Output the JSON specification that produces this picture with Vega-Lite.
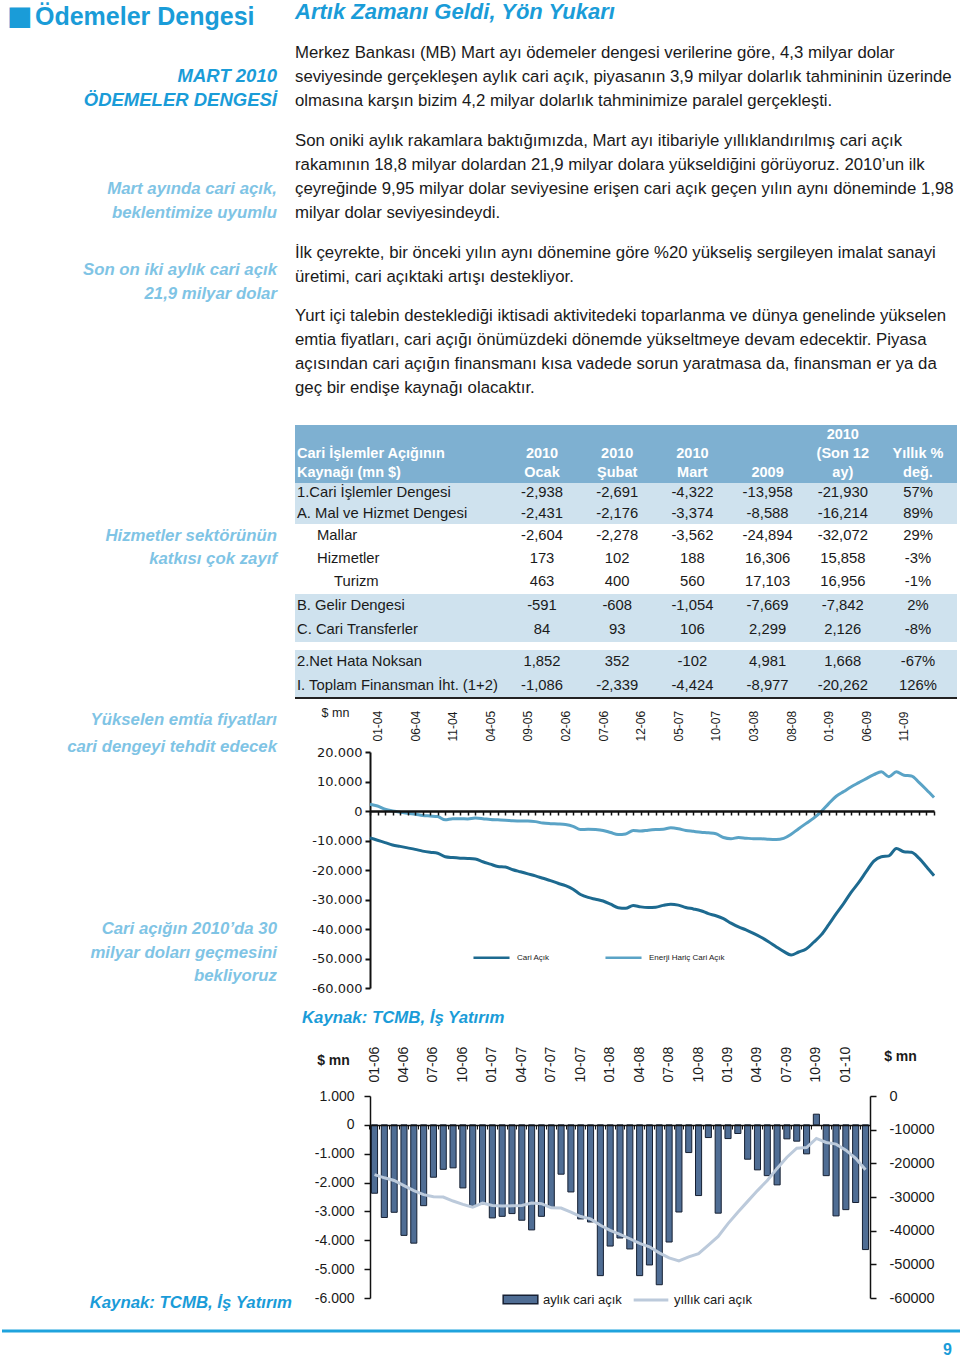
{
"$schema": "https://vega.github.io/schema/vega-lite/v6.json",
"background": "white",
"padding": 0,
"columns": 2,
"spacing": {"row": 0, "column": 18},
"align": {"row": "each", "column": "each"},
"bounds": "flush",
"config": {
  "view": {"stroke": null},
  "font": "Liberation Sans",
  "locale": {"number": {"decimal": ",", "thousands": ".", "grouping": [3], "currency": ["", ""], "minus": "-"}},
  "axis": {"labelFont": "Liberation Sans", "titleFont": "Liberation Sans", "labelColor": "#1a1a1a", "titleColor": "#1a1a1a", "domainColor": "#111111", "tickColor": "#111111", "grid": false, "labelOverlap": false},
  "legend": {"labelFont": "Liberation Sans", "labelColor": "#1a1a1a"}
},
"datasets": {
  "ca": [
    {"m": "12-03", "cari": -9100, "enerji": 2300},
    {"m": "01-04", "cari": -9900, "enerji": 1700},
    {"m": "02-04", "cari": -10700, "enerji": 600},
    {"m": "03-04", "cari": -11500, "enerji": 0},
    {"m": "04-04", "cari": -12000, "enerji": -400},
    {"m": "05-04", "cari": -12500, "enerji": -800},
    {"m": "06-04", "cari": -13000, "enerji": -1100},
    {"m": "07-04", "cari": -13600, "enerji": -1500},
    {"m": "08-04", "cari": -14000, "enerji": -1700},
    {"m": "09-04", "cari": -14300, "enerji": -1900},
    {"m": "10-04", "cari": -15500, "enerji": -3000},
    {"m": "11-04", "cari": -15800, "enerji": -2600},
    {"m": "12-04", "cari": -16000, "enerji": -2600},
    {"m": "01-05", "cari": -16100, "enerji": -2700},
    {"m": "02-05", "cari": -16300, "enerji": -2400},
    {"m": "03-05", "cari": -17200, "enerji": -2600},
    {"m": "04-05", "cari": -18000, "enerji": -2900},
    {"m": "05-05", "cari": -18800, "enerji": -3000},
    {"m": "06-05", "cari": -19000, "enerji": -3100},
    {"m": "07-05", "cari": -19900, "enerji": -3300},
    {"m": "08-05", "cari": -20600, "enerji": -3400},
    {"m": "09-05", "cari": -21300, "enerji": -3400},
    {"m": "10-05", "cari": -22000, "enerji": -3600},
    {"m": "11-05", "cari": -22800, "enerji": -4100},
    {"m": "12-05", "cari": -23600, "enerji": -4300},
    {"m": "01-06", "cari": -24500, "enerji": -4400},
    {"m": "02-06", "cari": -25300, "enerji": -4600},
    {"m": "03-06", "cari": -26500, "enerji": -5200},
    {"m": "04-06", "cari": -28300, "enerji": -6300},
    {"m": "05-06", "cari": -29300, "enerji": -6200},
    {"m": "06-06", "cari": -29900, "enerji": -6300},
    {"m": "07-06", "cari": -30500, "enerji": -6600},
    {"m": "08-06", "cari": -31600, "enerji": -7300},
    {"m": "09-06", "cari": -32800, "enerji": -8000},
    {"m": "10-06", "cari": -33000, "enerji": -7800},
    {"m": "11-06", "cari": -32000, "enerji": -6600},
    {"m": "12-06", "cari": -32500, "enerji": -6800},
    {"m": "01-07", "cari": -32700, "enerji": -6500},
    {"m": "02-07", "cari": -32600, "enerji": -6300},
    {"m": "03-07", "cari": -32000, "enerji": -6200},
    {"m": "04-07", "cari": -31600, "enerji": -5700},
    {"m": "05-07", "cari": -31900, "enerji": -6000},
    {"m": "06-07", "cari": -32700, "enerji": -6600},
    {"m": "07-07", "cari": -33200, "enerji": -6900},
    {"m": "08-07", "cari": -33800, "enerji": -7200},
    {"m": "09-07", "cari": -34800, "enerji": -7400},
    {"m": "10-07", "cari": -35500, "enerji": -7700},
    {"m": "11-07", "cari": -36500, "enerji": -9000},
    {"m": "12-07", "cari": -38000, "enerji": -9400},
    {"m": "01-08", "cari": -39300, "enerji": -9000},
    {"m": "02-08", "cari": -40300, "enerji": -9200},
    {"m": "03-08", "cari": -41500, "enerji": -9400},
    {"m": "04-08", "cari": -42800, "enerji": -9400},
    {"m": "05-08", "cari": -44300, "enerji": -9600},
    {"m": "06-08", "cari": -46000, "enerji": -9700},
    {"m": "07-08", "cari": -47600, "enerji": -9300},
    {"m": "08-08", "cari": -48800, "enerji": -7900},
    {"m": "09-08", "cari": -47800, "enerji": -6000},
    {"m": "10-08", "cari": -46800, "enerji": -4200},
    {"m": "11-08", "cari": -44500, "enerji": -2400},
    {"m": "12-08", "cari": -42000, "enerji": -200},
    {"m": "01-09", "cari": -38500, "enerji": 2500},
    {"m": "02-09", "cari": -34800, "enerji": 5000},
    {"m": "03-09", "cari": -31300, "enerji": 6600},
    {"m": "04-09", "cari": -27500, "enerji": 8200},
    {"m": "05-09", "cari": -24200, "enerji": 9600},
    {"m": "06-09", "cari": -20500, "enerji": 11000},
    {"m": "07-09", "cari": -17000, "enerji": 12300},
    {"m": "08-09", "cari": -15500, "enerji": 13300},
    {"m": "09-09", "cari": -15200, "enerji": 11600},
    {"m": "10-09", "cari": -12700, "enerji": 13300},
    {"m": "11-09", "cari": -13800, "enerji": 12100},
    {"m": "12-09", "cari": -14000, "enerji": 11900},
    {"m": "01-10", "cari": -16000, "enerji": 9700},
    {"m": "02-10", "cari": -18900, "enerji": 7200},
    {"m": "03-10", "cari": -21930, "enerji": 4600}
  ],
  "monthly": [
    {"m": "01-06", "aylik": -2370, "yillik": -23350},
    {"m": "02-06", "aylik": -3210, "yillik": -24300},
    {"m": "03-06", "aylik": -3030, "yillik": -25100},
    {"m": "04-06", "aylik": -3830, "yillik": -26600},
    {"m": "05-06", "aylik": -4100, "yillik": -28100},
    {"m": "06-06", "aylik": -2800, "yillik": -29300},
    {"m": "07-06", "aylik": -1815, "yillik": -29900},
    {"m": "08-06", "aylik": -1540, "yillik": -30000},
    {"m": "09-06", "aylik": -1490, "yillik": -31200},
    {"m": "10-06", "aylik": -2185, "yillik": -32200},
    {"m": "11-06", "aylik": -2800, "yillik": -33000},
    {"m": "12-06", "aylik": -2740, "yillik": -31800},
    {"m": "01-07", "aylik": -3225, "yillik": -32500},
    {"m": "02-07", "aylik": -3170, "yillik": -32700},
    {"m": "03-07", "aylik": -3075, "yillik": -32600},
    {"m": "04-07", "aylik": -3305, "yillik": -32500},
    {"m": "05-07", "aylik": -3640, "yillik": -31800},
    {"m": "06-07", "aylik": -3170, "yillik": -32000},
    {"m": "07-07", "aylik": -2855, "yillik": -33200},
    {"m": "08-07", "aylik": -1710, "yillik": -33300},
    {"m": "09-07", "aylik": -2325, "yillik": -34500},
    {"m": "10-07", "aylik": -3260, "yillik": -35800},
    {"m": "11-07", "aylik": -3365, "yillik": -36500},
    {"m": "12-07", "aylik": -5225, "yillik": -38400},
    {"m": "01-08", "aylik": -4200, "yillik": -39900},
    {"m": "02-08", "aylik": -3920, "yillik": -41100},
    {"m": "03-08", "aylik": -4300, "yillik": -42400},
    {"m": "04-08", "aylik": -5225, "yillik": -43800},
    {"m": "05-08", "aylik": -4855, "yillik": -44800},
    {"m": "06-08", "aylik": -5540, "yillik": -46600},
    {"m": "07-08", "aylik": -4060, "yillik": -48100},
    {"m": "08-08", "aylik": -3020, "yillik": -49000},
    {"m": "09-08", "aylik": -960, "yillik": -47800},
    {"m": "10-08", "aylik": -2450, "yillik": -46800},
    {"m": "11-08", "aylik": -440, "yillik": -44300},
    {"m": "12-08", "aylik": -3060, "yillik": -41700},
    {"m": "01-09", "aylik": -475, "yillik": -37900},
    {"m": "02-09", "aylik": -300, "yillik": -34500},
    {"m": "03-09", "aylik": -1190, "yillik": -31300},
    {"m": "04-09", "aylik": -1560, "yillik": -28100},
    {"m": "05-09", "aylik": -1760, "yillik": -25100},
    {"m": "06-09", "aylik": -2080, "yillik": -21500},
    {"m": "07-09", "aylik": -485, "yillik": -18200},
    {"m": "08-09", "aylik": -565, "yillik": -15500},
    {"m": "09-09", "aylik": -1005, "yillik": -15300},
    {"m": "10-09", "aylik": 370, "yillik": -12600},
    {"m": "11-09", "aylik": -1760, "yillik": -13800},
    {"m": "12-09", "aylik": -3155, "yillik": -14300},
    {"m": "01-10", "aylik": -2938, "yillik": -16100},
    {"m": "02-10", "aylik": -2691, "yillik": -18500},
    {"m": "03-10", "aylik": -4322, "yillik": -21930}
  ],
  "table": [
    {"blk": "A", "line": 1, "label": "1.Cari İşlemler Dengesi", "c1": "-2,938", "c2": "-2,691", "c3": "-4,322", "c4": "-13,958", "c5": "-21,930", "c6": "57%"},
    {"blk": "A", "line": 2, "label": "A. Mal ve Hizmet Dengesi", "c1": "-2,431", "c2": "-2,176", "c3": "-3,374", "c4": "-8,588", "c5": "-16,214", "c6": "89%"},
    {"blk": "B", "line": 1, "label": "Mallar", "c1": "-2,604", "c2": "-2,278", "c3": "-3,562", "c4": "-24,894", "c5": "-32,072", "c6": "29%"},
    {"blk": "B", "line": 2, "label": "Hizmetler", "c1": "173", "c2": "102", "c3": "188", "c4": "16,306", "c5": "15,858", "c6": "-3%"},
    {"blk": "B", "line": 3, "label": "Turizm", "c1": "463", "c2": "400", "c3": "560", "c4": "17,103", "c5": "16,956", "c6": "-1%"},
    {"blk": "C", "line": 1, "label": "B. Gelir Dengesi", "c1": "-591", "c2": "-608", "c3": "-1,054", "c4": "-7,669", "c5": "-7,842", "c6": "2%"},
    {"blk": "C", "line": 2, "label": "C. Cari Transferler", "c1": "84", "c2": "93", "c3": "106", "c4": "2,299", "c5": "2,126", "c6": "-8%"},
    {"blk": "D", "line": 1, "label": "2.Net Hata Noksan", "c1": "1,852", "c2": "352", "c3": "-102", "c4": "4,981", "c5": "1,668", "c6": "-67%"},
    {"blk": "D", "line": 2, "label": "I. Toplam Finansman İht. (1+2)", "c1": "-1,086", "c2": "-2,339", "c3": "-4,424", "c4": "-8,977", "c5": "-20,262", "c6": "126%"}
  ]
},
"concat": [
  {
    "width": 275, "height": 25,
    "data": {"values": [{"sq": "■", "t": "Ödemeler Dengesi"}]},
    "layer": [
      {"mark": {"type": "text", "align": "left", "baseline": "middle", "font": "DejaVu Sans", "fontSize": 27, "color": "#1a9cd8", "dx": 5, "dy": 4}, "encoding": {"x": {"value": 0}, "text": {"field": "sq"}}},
      {"mark": {"type": "text", "align": "left", "baseline": "middle", "fontSize": 25, "fontWeight": "bold", "color": "#1a9cd8", "dx": 33, "dy": 4.5}, "encoding": {"x": {"value": 0}, "text": {"field": "t"}}}
    ]
  },
  {
    "width": 667, "height": 25,
    "data": {"values": [{"t": "Artık Zamanı Geldi, Yön Yukarı"}]},
    "mark": {"type": "text", "align": "left", "baseline": "middle", "fontSize": 22, "fontWeight": "bold", "fontStyle": "italic", "color": "#1a9cd8", "dy": -0.5},
    "encoding": {"x": {"value": 0}, "text": {"field": "t"}}
  },
  {"width": 275, "height": 16, "data": {"values": [{"t": ""}]}, "mark": {"type": "text"}, "encoding": {"text": {"field": "t"}}},
  {"width": 1, "height": 16, "data": {"values": [{"t": ""}]}, "mark": {"type": "text"}, "encoding": {"text": {"field": "t"}}},
  {
    "width": 275, "height": 72,
    "data": {"values": [{"line": 2, "t": "MART 2010"}, {"line": 3, "t": "ÖDEMELER DENGESİ"}]},
    "mark": {"type": "text", "align": "right", "baseline": "middle", "fontSize": 18.5, "fontWeight": "bold", "fontStyle": "italic", "color": "#1a9cd8", "dy": -1},
    "encoding": {"x": {"value": "width"}, "y": {"field": "line", "type": "ordinal", "scale": {"type": "point", "padding": 0.5, "domain": [1, 2, 3]}, "axis": null}, "text": {"field": "t"}}
  },
  {
    "width": 667, "height": 72,
    "data": {"values": [
      {"line": 1, "t": "Merkez Bankası (MB) Mart ayı ödemeler dengesi verilerine göre, 4,3 milyar dolar"},
      {"line": 2, "t": "seviyesinde gerçekleşen aylık cari açık, piyasanın 3,9 milyar dolarlık tahmininin üzerinde"},
      {"line": 3, "t": "olmasına karşın bizim 4,2 milyar dolarlık tahminimize paralel gerçekleşti."}
    ]},
    "mark": {"type": "text", "align": "left", "baseline": "middle", "fontSize": 16.8, "color": "#1a1a1a"},
    "encoding": {"x": {"value": 0}, "y": {"field": "line", "type": "ordinal", "scale": {"type": "point", "padding": 0.5, "domain": [1, 2, 3]}, "axis": null}, "text": {"field": "t"}}
  },
  {"width": 275, "height": 16, "data": {"values": [{"t": ""}]}, "mark": {"type": "text"}, "encoding": {"text": {"field": "t"}}},
  {"width": 1, "height": 16, "data": {"values": [{"t": ""}]}, "mark": {"type": "text"}, "encoding": {"text": {"field": "t"}}},
  {
    "width": 275, "height": 96,
    "data": {"values": [{"line": 3, "t": "Mart ayında cari açık,"}, {"line": 4, "t": "beklentimize uyumlu"}]},
    "mark": {"type": "text", "align": "right", "baseline": "middle", "fontSize": 16.8, "fontWeight": "bold", "fontStyle": "italic", "color": "#7fc4e5"},
    "encoding": {"x": {"value": "width"}, "y": {"field": "line", "type": "ordinal", "scale": {"type": "point", "padding": 0.5, "domain": [1, 2, 3, 4]}, "axis": null}, "text": {"field": "t"}}
  },
  {
    "width": 667, "height": 96,
    "data": {"values": [
      {"line": 1, "t": "Son oniki aylık rakamlara baktığımızda, Mart ayı itibariyle yıllıklandırılmış cari açık"},
      {"line": 2, "t": "rakamının 18,8 milyar dolardan 21,9 milyar dolara yükseldiğini görüyoruz. 2010’un ilk"},
      {"line": 3, "t": "çeyreğinde 9,95 milyar dolar seviyesine erişen cari açık geçen yılın aynı döneminde 1,98"},
      {"line": 4, "t": "milyar dolar seviyesindeydi."}
    ]},
    "mark": {"type": "text", "align": "left", "baseline": "middle", "fontSize": 16.8, "color": "#1a1a1a"},
    "encoding": {"x": {"value": 0}, "y": {"field": "line", "type": "ordinal", "scale": {"type": "point", "padding": 0.5, "domain": [1, 2, 3, 4]}, "axis": null}, "text": {"field": "t"}}
  },
  {"width": 275, "height": 16, "data": {"values": [{"t": ""}]}, "mark": {"type": "text"}, "encoding": {"text": {"field": "t"}}},
  {"width": 1, "height": 16, "data": {"values": [{"t": ""}]}, "mark": {"type": "text"}, "encoding": {"text": {"field": "t"}}},
  {
    "width": 275, "height": 48,
    "data": {"values": [{"line": 1, "t": "Son on iki aylık cari açık"}, {"line": 2, "t": "21,9 milyar dolar"}]},
    "mark": {"type": "text", "align": "right", "baseline": "middle", "fontSize": 16.8, "fontWeight": "bold", "fontStyle": "italic", "color": "#7fc4e5", "dy": 17},
    "encoding": {"x": {"value": "width"}, "y": {"field": "line", "type": "ordinal", "scale": {"type": "point", "padding": 0.5, "domain": [1, 2]}, "axis": null}, "text": {"field": "t"}}
  },
  {
    "width": 667, "height": 48,
    "data": {"values": [
      {"line": 1, "t": "İlk çeyrekte, bir önceki yılın aynı dönemine göre %20 yükseliş sergileyen imalat sanayi"},
      {"line": 2, "t": "üretimi, cari açıktaki artışı destekliyor."}
    ]},
    "mark": {"type": "text", "align": "left", "baseline": "middle", "fontSize": 16.8, "color": "#1a1a1a"},
    "encoding": {"x": {"value": 0}, "y": {"field": "line", "type": "ordinal", "scale": {"type": "point", "padding": 0.5, "domain": [1, 2]}, "axis": null}, "text": {"field": "t"}}
  },
  {"width": 275, "height": 15, "data": {"values": [{"t": ""}]}, "mark": {"type": "text"}, "encoding": {"text": {"field": "t"}}},
  {"width": 1, "height": 15, "data": {"values": [{"t": ""}]}, "mark": {"type": "text"}, "encoding": {"text": {"field": "t"}}},
  {"width": 275, "height": 96, "data": {"values": [{"t": ""}]}, "mark": {"type": "text"}, "encoding": {"text": {"field": "t"}}},
  {
    "width": 667, "height": 96,
    "data": {"values": [
      {"line": 1, "t": "Yurt içi talebin desteklediği iktisadi aktivitedeki toparlanma ve dünya genelinde yükselen"},
      {"line": 2, "t": "emtia fiyatları, cari açığı önümüzdeki dönemde yükseltmeye devam edecektir. Piyasa"},
      {"line": 3, "t": "açısından cari açığın finansmanı kısa vadede sorun yaratmasa da, finansman er ya da"},
      {"line": 4, "t": "geç bir endişe kaynağı olacaktır."}
    ]},
    "mark": {"type": "text", "align": "left", "baseline": "middle", "fontSize": 16.8, "color": "#1a1a1a"},
    "encoding": {"x": {"value": 0}, "y": {"field": "line", "type": "ordinal", "scale": {"type": "point", "padding": 0.5, "domain": [1, 2, 3, 4]}, "axis": null}, "text": {"field": "t"}}
  },
  {"width": 275, "height": 25, "data": {"values": [{"t": ""}]}, "mark": {"type": "text"}, "encoding": {"text": {"field": "t"}}},
  {"width": 1, "height": 25, "data": {"values": [{"t": ""}]}, "mark": {"type": "text"}, "encoding": {"text": {"field": "t"}}},
  {"width": 275, "height": 58, "data": {"values": [{"t": ""}]}, "mark": {"type": "text"}, "encoding": {"text": {"field": "t"}}},
  {
    "width": 662, "height": 58,
    "view": {"fill": "#7eb0d1", "stroke": null},
    "layer": [
      {
        "data": {"values": [{"line": 2, "t": "Cari İşlemler Açığının"}, {"line": 3, "t": "Kaynağı (mn $)"}]},
        "mark": {"type": "text", "align": "left", "baseline": "middle", "dx": 2, "fontSize": 14.5, "fontWeight": "bold", "color": "white"},
        "encoding": {"x": {"value": 0}, "y": {"field": "line", "type": "ordinal", "scale": {"type": "point", "padding": 0.5, "domain": [1, 2, 3]}, "axis": null}, "text": {"field": "t"}}
      },
      {
        "data": {"values": [
          {"line": 1, "col": "c5", "t": "2010"},
          {"line": 2, "col": "c1", "t": "2010"},
          {"line": 2, "col": "c2", "t": "2010"},
          {"line": 2, "col": "c3", "t": "2010"},
          {"line": 2, "col": "c5", "t": "(Son 12"},
          {"line": 2, "col": "c6", "t": "Yıllık %"},
          {"line": 3, "col": "c1", "t": "Ocak"},
          {"line": 3, "col": "c2", "t": "Şubat"},
          {"line": 3, "col": "c3", "t": "Mart"},
          {"line": 3, "col": "c4", "t": "2009"},
          {"line": 3, "col": "c5", "t": "ay)"},
          {"line": 3, "col": "c6", "t": "değ."}
        ]},
        "mark": {"type": "text", "align": "center", "baseline": "middle", "fontSize": 14.5, "fontWeight": "bold", "color": "white"},
        "encoding": {
          "x": {"field": "col", "type": "nominal", "scale": {"type": "point", "padding": 0, "domain": ["c1", "c2", "c3", "c4", "c5", "c6"], "range": [247, 623]}, "axis": null},
          "y": {"field": "line", "type": "ordinal", "scale": {"type": "point", "padding": 0.5, "domain": [1, 2, 3]}, "axis": null},
          "text": {"field": "t"}
        }
      }
    ]
  },
  {"width": 275, "height": 41, "data": {"values": [{"t": ""}]}, "mark": {"type": "text"}, "encoding": {"text": {"field": "t"}}},
  {
    "width": 662, "height": 41,
    "view": {"fill": "#cfe2ee", "stroke": null},
    "data": {"name": "table"},
    "transform": [{"filter": "datum.blk === 'A'"}],
    "layer": [
      {
        "mark": {"type": "text", "align": "left", "baseline": "middle", "dx": 2, "fontSize": 14.8, "color": "#1a1a1a"},
        "encoding": {"x": {"value": 0}, "y": {"field": "line", "type": "ordinal", "scale": {"type": "point", "padding": 0.5, "domain": [1, 2]}, "axis": null}, "text": {"field": "label"}}
      },
      {
        "transform": [{"fold": ["c1", "c2", "c3", "c4", "c5", "c6"]}],
        "mark": {"type": "text", "align": "center", "baseline": "middle", "fontSize": 14.8, "color": "#1a1a1a"},
        "encoding": {
          "x": {"field": "key", "type": "nominal", "scale": {"type": "point", "padding": 0, "domain": ["c1", "c2", "c3", "c4", "c5", "c6"], "range": [247, 623]}, "axis": null},
          "y": {"field": "line", "type": "ordinal", "scale": {"type": "point", "padding": 0.5, "domain": [1, 2]}, "axis": null},
          "text": {"field": "value"}
        }
      }
    ]
  },
  {
    "width": 275, "height": 70,
    "data": {"values": [{"line": 1, "t": "Hizmetler sektörünün"}, {"line": 2, "t": "katkısı çok zayıf"}]},
    "mark": {"type": "text", "align": "right", "baseline": "middle", "fontSize": 16.8, "fontWeight": "bold", "fontStyle": "italic", "color": "#7fc4e5"},
    "encoding": {"x": {"value": "width"}, "y": {"field": "line", "type": "ordinal", "scale": {"type": "point", "padding": 0.5, "domain": [1, 2, 3]}, "axis": null}, "text": {"field": "t"}}
  },
  {
    "width": 662, "height": 70,
    "data": {"name": "table"},
    "transform": [{"filter": "datum.blk === 'B'"}],
    "layer": [
      {
        "transform": [{"filter": "datum.line < 3"}],
        "mark": {"type": "text", "align": "left", "baseline": "middle", "dx": 22, "fontSize": 14.8, "color": "#1a1a1a"},
        "encoding": {"x": {"value": 0}, "y": {"field": "line", "type": "ordinal", "scale": {"type": "point", "padding": 0.5, "domain": [1, 2, 3]}, "axis": null}, "text": {"field": "label"}}
      },
      {
        "transform": [{"filter": "datum.line === 3"}],
        "mark": {"type": "text", "align": "left", "baseline": "middle", "dx": 39, "fontSize": 14.8, "color": "#1a1a1a"},
        "encoding": {"x": {"value": 0}, "y": {"field": "line", "type": "ordinal", "scale": {"type": "point", "padding": 0.5, "domain": [1, 2, 3]}, "axis": null}, "text": {"field": "label"}}
      },
      {
        "transform": [{"fold": ["c1", "c2", "c3", "c4", "c5", "c6"]}],
        "mark": {"type": "text", "align": "center", "baseline": "middle", "fontSize": 14.8, "color": "#1a1a1a"},
        "encoding": {
          "x": {"field": "key", "type": "nominal", "scale": {"type": "point", "padding": 0, "domain": ["c1", "c2", "c3", "c4", "c5", "c6"], "range": [247, 623]}, "axis": null},
          "y": {"field": "line", "type": "ordinal", "scale": {"type": "point", "padding": 0.5, "domain": [1, 2, 3]}, "axis": null},
          "text": {"field": "value"}
        }
      }
    ]
  },
  {"width": 275, "height": 48, "data": {"values": [{"t": ""}]}, "mark": {"type": "text"}, "encoding": {"text": {"field": "t"}}},
  {
    "width": 662, "height": 48,
    "view": {"fill": "#cfe2ee", "stroke": null},
    "data": {"name": "table"},
    "transform": [{"filter": "datum.blk === 'C'"}],
    "layer": [
      {
        "mark": {"type": "text", "align": "left", "baseline": "middle", "dx": 2, "fontSize": 14.8, "color": "#1a1a1a"},
        "encoding": {"x": {"value": 0}, "y": {"field": "line", "type": "ordinal", "scale": {"type": "point", "padding": 0.5, "domain": [1, 2]}, "axis": null}, "text": {"field": "label"}}
      },
      {
        "transform": [{"fold": ["c1", "c2", "c3", "c4", "c5", "c6"]}],
        "mark": {"type": "text", "align": "center", "baseline": "middle", "fontSize": 14.8, "color": "#1a1a1a"},
        "encoding": {
          "x": {"field": "key", "type": "nominal", "scale": {"type": "point", "padding": 0, "domain": ["c1", "c2", "c3", "c4", "c5", "c6"], "range": [247, 623]}, "axis": null},
          "y": {"field": "line", "type": "ordinal", "scale": {"type": "point", "padding": 0.5, "domain": [1, 2]}, "axis": null},
          "text": {"field": "value"}
        }
      }
    ]
  },
  {"width": 275, "height": 8, "data": {"values": [{"t": ""}]}, "mark": {"type": "text"}, "encoding": {"text": {"field": "t"}}},
  {"width": 1, "height": 8, "data": {"values": [{"t": ""}]}, "mark": {"type": "text"}, "encoding": {"text": {"field": "t"}}},
  {"width": 275, "height": 48, "data": {"values": [{"t": ""}]}, "mark": {"type": "text"}, "encoding": {"text": {"field": "t"}}},
  {
    "width": 662, "height": 48,
    "view": {"fill": "#cfe2ee", "stroke": null},
    "data": {"name": "table"},
    "transform": [{"filter": "datum.blk === 'D'"}],
    "layer": [
      {
        "mark": {"type": "text", "align": "left", "baseline": "middle", "dx": 2, "fontSize": 14.8, "color": "#1a1a1a"},
        "encoding": {"x": {"value": 0}, "y": {"field": "line", "type": "ordinal", "scale": {"type": "point", "padding": 0.5, "domain": [1, 2]}, "axis": null}, "text": {"field": "label"}}
      },
      {
        "transform": [{"fold": ["c1", "c2", "c3", "c4", "c5", "c6"]}],
        "mark": {"type": "text", "align": "center", "baseline": "middle", "fontSize": 14.8, "color": "#1a1a1a"},
        "encoding": {
          "x": {"field": "key", "type": "nominal", "scale": {"type": "point", "padding": 0, "domain": ["c1", "c2", "c3", "c4", "c5", "c6"], "range": [247, 623]}, "axis": null},
          "y": {"field": "line", "type": "ordinal", "scale": {"type": "point", "padding": 0.5, "domain": [1, 2]}, "axis": null},
          "text": {"field": "value"}
        }
      },
      {
        "mark": {"type": "rule", "color": "#222222", "strokeWidth": 2},
        "encoding": {"x": {"value": 0}, "x2": {"value": "width"}, "y": {"value": "height"}}
      }
    ]
  },
  {
    "width": 275, "height": 54,
    "data": {"values": [{"line": 1, "t": "Yükselen emtia fiyatları"}, {"line": 2, "t": "cari dengeyi tehdit edecek"}]},
    "mark": {"type": "text", "align": "right", "baseline": "middle", "fontSize": 16.8, "fontWeight": "bold", "fontStyle": "italic", "color": "#7fc4e5", "dy": 8},
    "encoding": {"x": {"value": "width"}, "y": {"field": "line", "type": "ordinal", "scale": {"type": "point", "padding": 0.5, "domain": [1, 2]}, "axis": null}, "text": {"field": "t"}}
  },
  {"width": 1, "height": 54, "data": {"values": [{"t": ""}]}, "mark": {"type": "text"}, "encoding": {"text": {"field": "t"}}},
  {
    "width": 275, "height": 236,
    "data": {"values": [{"line": 8, "t": "Cari açığın 2010’da 30"}, {"line": 9, "t": "milyar doları geçmesini"}, {"line": 10, "t": "bekliyoruz"}]},
    "mark": {"type": "text", "align": "right", "baseline": "middle", "fontSize": 16.8, "fontWeight": "bold", "fontStyle": "italic", "color": "#7fc4e5"},
    "encoding": {"x": {"value": "width"}, "y": {"field": "line", "type": "ordinal", "scale": {"type": "point", "padding": 0.5, "domain": [1, 2, 3, 4, 5, 6, 7, 8, 9, 10]}, "axis": null}, "text": {"field": "t"}}
  },
  {
    "width": 639, "height": 236,
    "data": {"name": "ca"},
    "layer": [
      {
        "mark": {"type": "line", "strokeWidth": 3, "interpolate": "monotone"},
        "encoding": {
          "x": {"field": "m", "type": "ordinal", "sort": null, "scale": {"type": "point", "padding": 0, "range": [75, 639]},
                "axis": {"orient": "top", "values": ["01-04", "06-04", "11-04", "04-05", "09-05", "02-06", "07-06", "12-06", "05-07", "10-07", "03-08", "08-08", "01-09", "06-09", "11-09"],
                         "labelAngle": 270, "labelFontSize": 12, "labelPadding": 11, "domain": false, "ticks": false, "title": null}},
          "y": {"field": "cari", "type": "quantitative", "scale": {"domain": [-60000, 20000]},
                "axis": {"offset": -75, "values": [-60000, -50000, -40000, -30000, -20000, -10000, 0, 10000, 20000], "format": ",d", "labelFont": "DejaVu Sans", "labelFontSize": 13, "tickSize": 5, "tickWidth": 2, "domainWidth": 2, "labelPadding": 3,
                         "title": "$ mn", "titleAngle": 0, "titleX": -35, "titleY": -40, "titleAlign": "center", "titleBaseline": "middle", "titleFontWeight": "normal", "titleFontSize": 12.5}},
          "color": {"datum": "Cari Açık", "scale": {"domain": ["Cari Açık", "Enerji Hariç Cari Açık"], "range": ["#1d6a90", "#5aa3c6"]},
                    "legend": {"orient": "none", "legendX": 470, "legendY": 938, "direction": "horizontal", "title": null, "labelFontSize": 8, "symbolType": "stroke", "symbolSize": 1300, "symbolStrokeWidth": 2.5, "columnPadding": 50, "labelOffset": 6}}
        }
      },
      {
        "mark": {"type": "line", "strokeWidth": 3, "interpolate": "monotone"},
        "encoding": {
          "x": {"field": "m", "type": "ordinal", "sort": null,
                "axis": {"orient": "bottom", "offset": -177, "labels": false, "domain": true, "domainWidth": 2.5, "domainColor": "#111111", "ticks": true, "tickSize": 4, "tickWidth": 1.5, "title": null, "zindex": 1}},
          "y": {"field": "enerji", "type": "quantitative",
                "axis": {"offset": -75, "values": [-60000, -50000, -40000, -30000, -20000, -10000, 0, 10000, 20000], "format": ",d", "labelFont": "DejaVu Sans", "labelFontSize": 13, "tickSize": 5, "tickWidth": 2, "domainWidth": 2, "labelPadding": 3,
                         "title": "$ mn", "titleAngle": 0, "titleX": -35, "titleY": -40, "titleAlign": "center", "titleBaseline": "middle", "titleFontWeight": "normal", "titleFontSize": 12.5}},
          "color": {"datum": "Enerji Hariç Cari Açık"}
        }
      }
    ],
    "resolve": {"axis": {"x": "independent"}}
  },
  {"width": 275, "height": 42, "data": {"values": [{"t": ""}]}, "mark": {"type": "text"}, "encoding": {"text": {"field": "t"}}},
  {
    "width": 564, "height": 42,
    "data": {"values": [{"t": "Kaynak: TCMB, İş Yatırım"}]},
    "mark": {"type": "text", "align": "left", "baseline": "middle", "dx": 7, "dy": 9, "fontSize": 16.8, "fontWeight": "bold", "fontStyle": "italic", "color": "#1a9cd8"},
    "encoding": {"x": {"value": 0}, "text": {"field": "t"}}
  },
  {"width": 275, "height": 66, "data": {"values": [{"t": ""}]}, "mark": {"type": "text"}, "encoding": {"text": {"field": "t"}}},
  {"width": 1, "height": 66, "data": {"values": [{"t": ""}]}, "mark": {"type": "text"}, "encoding": {"text": {"field": "t"}}},
  {
    "width": 275, "height": 202,
    "data": {"values": [{"t": "Kaynak: TCMB, İş Yatırım"}]},
    "mark": {"type": "text", "align": "right", "baseline": "middle", "dx": 15, "dy": 5, "fontSize": 16.8, "fontWeight": "bold", "fontStyle": "italic", "color": "#1a9cd8"},
    "encoding": {"x": {"value": "width"}, "y": {"value": "height"}, "text": {"field": "t"}}
  },
  {
    "width": 575, "height": 202,
    "data": {"name": "monthly"},
    "layer": [
      {
        "mark": {"type": "bar", "stroke": "#162033", "strokeWidth": 1},
        "encoding": {
          "x": {"field": "m", "type": "ordinal", "sort": null, "scale": {"range": [75, 575], "paddingInner": 0.38, "paddingOuter": 0.15},
                "axis": {"orient": "top", "values": ["01-06", "04-06", "07-06", "10-06", "01-07", "04-07", "07-07", "10-07", "01-08", "04-08", "07-08", "10-08", "01-09", "04-09", "07-09", "10-09", "01-10"],
                         "labelAngle": 270, "labelFontSize": 14, "labelPadding": 14, "domain": false, "ticks": false, "title": null}},
          "y": {"field": "aylik", "type": "quantitative", "scale": {"domain": [-6000, 1000]},
                "axis": {"offset": -75, "values": [-6000, -5000, -4000, -3000, -2000, -1000, 0, 1000], "format": ",d", "labelFontSize": 14, "tickSize": 6, "tickWidth": 1.5, "domainWidth": 1.5, "labelPadding": 10,
                         "title": "$ mn", "titleAngle": 0, "titleX": -37, "titleY": -36, "titleAlign": "center", "titleBaseline": "middle", "titleFontSize": 14, "titleFontWeight": "bold"}},
          "fill": {"datum": "aylık cari açık", "scale": {"range": ["#4f6d94"]},
                   "legend": {"orient": "none", "legendX": 500, "legendY": 1281, "title": null, "labelFontSize": 13, "symbolType": "M-1,-0.25H1V0.25H-1Z", "symbolSize": 1200, "symbolStrokeColor": "#162033", "symbolStrokeWidth": 1.5, "labelOffset": 4}}
        }
      },
      {
        "mark": {"type": "line", "strokeWidth": 3},
        "encoding": {
          "x": {"field": "m", "type": "ordinal", "sort": null,
                "axis": {"orient": "bottom", "offset": -173, "labels": false, "domain": true, "domainWidth": 1.5, "domainColor": "#111111", "ticks": true, "tickSize": 4, "tickWidth": 1, "bandPosition": -0.3, "title": null, "zindex": 1}},
          "y": {"field": "yillik", "type": "quantitative", "scale": {"domain": [-60000, 0]},
                "axis": {"orient": "right", "values": [-60000, -50000, -40000, -30000, -20000, -10000, 0], "format": "d", "labelFontSize": 14.5, "tickSize": 6, "tickWidth": 1.5, "domainWidth": 1.5, "labelPadding": 13,
                         "title": "$ mn", "titleAngle": 0, "titleX": 30, "titleY": -40, "titleAlign": "center", "titleBaseline": "middle", "titleFontSize": 14, "titleFontWeight": "bold"}},
          "stroke": {"datum": "yıllık cari açık", "scale": {"range": ["#bccadb"]},
                     "legend": {"orient": "none", "legendX": 630, "legendY": 1281, "title": null, "labelFontSize": 13, "symbolType": "stroke", "symbolSize": 1200, "symbolStrokeWidth": 3, "labelOffset": 4}}
        }
      }
    ],
    "resolve": {"scale": {"y": "independent"}, "axis": {"x": "independent"}}
  },
  {
    "width": 275, "height": 33,
    "data": {"values": [{"t": ""}]},
    "mark": {"type": "rule", "color": "#1fa3dd", "strokeWidth": 3, "x2Offset": 18},
    "encoding": {"x": {"value": 0}, "x2": {"value": "width"}, "y": {"value": "height"}}
  },
  {
    "width": 667, "height": 33,
    "layer": [
      {
        "data": {"values": [{"t": ""}]},
        "mark": {"type": "rule", "color": "#1fa3dd", "strokeWidth": 3},
        "encoding": {"x": {"value": 0}, "x2": {"value": "width"}, "y": {"value": "height"}}
      },
      {
        "data": {"values": [{"t": "9"}]},
        "mark": {"type": "text", "align": "right", "baseline": "middle", "dx": -10, "dy": 19, "fontSize": 16, "fontWeight": "bold", "color": "#1a9cd8"},
        "encoding": {"x": {"value": "width"}, "y": {"value": "height"}, "text": {"field": "t"}}
      }
    ]
  }
]
}
